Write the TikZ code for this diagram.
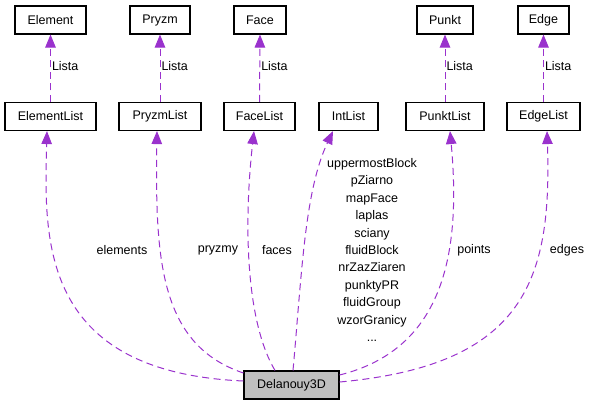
\documentclass[tikz,border=0pt]{standalone}
\usepackage{fontspec}
\setmainfont{Liberation Sans}
\usetikzlibrary{arrows.meta}
\definecolor{edgec}{HTML}{9A32CD}
\definecolor{boxfill}{HTML}{BFBFBF}
\begin{document}
\begin{tikzpicture}[x=1pt,y=-1pt,
  cls/.style={draw=black, line width=1.1pt, fill=white, minimum height=28pt, inner sep=0pt, font=\fontsize{12.5}{15}\selectfont},
  rel/.style={draw=edgec, line width=1pt, dash pattern=on 7pt off 4.5pt, -{Triangle[length=13pt,width=10.5pt]}},
  lbl/.style={font=\fontsize{12.5}{15}\selectfont, inner sep=0pt}]
\useasboundingbox (0,0) rectangle (591,405);
% top classes
\node[cls, minimum width=71pt] (Element) at (50.5,20) {Element};
\node[cls, minimum width=60pt] (Pryzm) at (160,20) {Pryzm};
\node[cls, minimum width=52pt] (Face) at (260,20) {Face};
\node[cls, minimum width=56pt] (Punkt) at (445,20) {Punkt};
\node[cls, minimum width=51pt] (Edge) at (543.5,20) {Edge};
% list classes
\node[cls, minimum width=91pt] (EL) at (50.5,116.5) {ElementList};
\node[cls, minimum width=82pt] (PL) at (160,116.5) {PryzmList};
\node[cls, minimum width=71pt] (FL) at (259.5,116.5) {FaceList};
\node[cls, minimum width=59pt] (IL) at (348.5,116.5) {IntList};
\node[cls, minimum width=78pt] (KL) at (445,116.5) {PunktList};
\node[cls, minimum width=73pt] (GL) at (543.5,116.5) {EdgeList};
% main class
\node[cls, minimum width=95pt, fill=boxfill] (D) at (291.5,385) {Delanouy3D};
% Lista relations
\draw[rel] (EL.north) -- node[lbl, right=1pt, pos=0.53] (l1) {Lista} (Element.south);
\draw[rel] (PL.north) -- node[lbl, right=1pt, pos=0.53] (l2) {Lista} (Pryzm.south);
\draw[rel] (FL.north) -- node[lbl, right=1pt, pos=0.53] (l3) {Lista} (Face.south);
\draw[rel] (KL.north) -- node[lbl, right=1pt, pos=0.53] (l4) {Lista} (Punkt.south);
\draw[rel] (GL.north) -- node[lbl, right=1pt, pos=0.53] (l5) {Lista} (Edge.south);
% member relations
\draw[rel] ([yshift=4pt]D.west) .. controls (40,372) and (44,240) .. ([xshift=-3.5pt]EL.south);
\draw[rel] ([yshift=12pt]D.west) .. controls (160,345) and (155,260) .. ([xshift=-3pt]PL.south);
\draw[rel] ([xshift=-16.5pt]D.north) .. controls (245,320) and (244,220) .. ([xshift=-5.5pt]FL.south);
\draw[rel] ([xshift=1.5pt]D.north) .. controls (302,270) and (305,190) .. ([xshift=-15.5pt]IL.south);
\draw[rel] ([yshift=10pt]D.east) .. controls (440,350) and (462,260) .. ([xshift=5pt]KL.south);
\draw[rel] ([yshift=3pt]D.east) .. controls (525,365) and (552,280) .. ([xshift=3.5pt]GL.south);
% edge labels
\node[lbl] (t1) at (122,250) {elements};
\node[lbl] (t2) at (218,250) {pryzmy};
\node[lbl] (t3) at (277,250) {faces};
\node[lbl] (t5) at (474,250) {points};
\node[lbl] (t6) at (567,250) {edges};
\node[lbl, align=center, font=\fontsize{12.5}{17.4}\selectfont] (t4) at (372,250)
  {uppermostBlock\\pZiarno\\mapFace\\laplas\\sciany\\fluidBlock\\nrZazZiaren\\punktyPR\\fluidGroup\\wzorGranicy\\...};
\end{tikzpicture}
\end{document}
